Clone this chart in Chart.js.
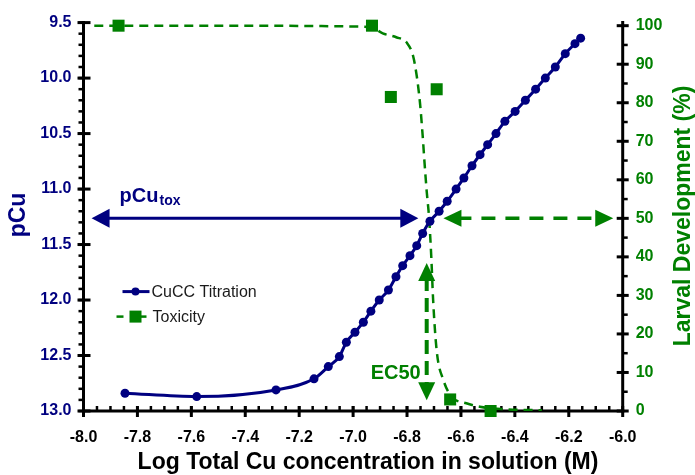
<!DOCTYPE html>
<html>
<head>
<meta charset="utf-8">
<script src="https://cdn.jsdelivr.net/npm/chart.js@4.4.1/dist/chart.umd.min.js"></script>
<style>
  html, body { margin: 0; padding: 0; background: #fff; }
</style>
</head>
<body>
<canvas id="chart" width="695" height="475"></canvas>
<script>
// CuCC titration: log total Cu (M) against free pCu
const titrationLogCu = [-7.846, -7.580, -7.286, -7.145, -7.092, -7.051, -7.025, -6.993, -6.962, -6.934,
  -6.903, -6.869, -6.841, -6.816, -6.789, -6.764, -6.742, -6.715, -6.681, -6.651,
  -6.618, -6.589, -6.559, -6.529, -6.501, -6.470, -6.437, -6.399, -6.361, -6.323,
  -6.287, -6.250, -6.213, -6.177, -6.156];
const titrationPCu = [12.84, 12.87, 12.81, 12.71, 12.60, 12.51, 12.38, 12.29, 12.20, 12.10,
  12.00, 11.91, 11.79, 11.69, 11.60, 11.51, 11.40, 11.29, 11.20, 11.11,
  11.00, 10.90, 10.79, 10.69, 10.60, 10.50, 10.39, 10.30, 10.20, 10.10,
  10.00, 9.90, 9.78, 9.69, 9.64];

// larval development bioassay (%)
const toxLogCu = [-7.87, -6.93, -6.86, -6.69, -6.64, -6.49];
const toxDevelopment = [100, 100, 81.5, 83.5, 3, 0];

// fitted dose-response curve
const fitLogCu = [-7.96, -7.40, -7.00, -6.93, -6.89, -6.84, -6.80, -6.777, -6.762, -6.752,
  -6.742, -6.736, -6.727, -6.718, -6.710, -6.703, -6.690, -6.665, -6.634, -6.580,
  -6.530, -6.450, -6.300];
const fitDevelopment = [100, 100, 99.8, 99.5, 98, 97, 95.5, 92, 86, 80,
  71.5, 65.4, 57, 50, 40, 28.6, 15.7, 8, 3.7, 2,
  1.1, 0.5, 0.2];

// tick values
const xTicks = [-8.0, -7.8, -7.6, -7.4, -7.2, -7.0, -6.8, -6.6, -6.4, -6.2, -6.0];
const pCuTicks = [9.5, 10.0, 10.5, 11.0, 11.5, 12.0, 12.5, 13.0];
const devTicks = [0, 10, 20, 30, 40, 50, 60, 70, 80, 90, 100];

// annotation arrows
const ec50LogCu = -6.727;
const ec50Span = [38.4, 2.8];          // vertical arrow, % development
const pCuToxSpan = [-7.97, -6.758];    // blue arrow along 50 %
const toxSpan = [-6.665, -6.035];      // green arrow along 50 %

const NAVY = '#000080';
const GREEN = '#008000';
const FONT = '"Liberation Sans", Arial, sans-serif';

Chart.defaults.font.family = FONT;

function line(ctx, x1, y1, x2, y2) {
  ctx.beginPath();
  ctx.moveTo(x1, y1);
  ctx.lineTo(x2, y2);
  ctx.stroke();
}

function head(ctx, tx, ty, dx, dy, len, half) {
  const px = -dy, py = dx;
  ctx.beginPath();
  ctx.moveTo(tx, ty);
  ctx.lineTo(tx - dx * len + px * half, ty - dy * len + py * half);
  ctx.lineTo(tx - dx * len - px * half, ty - dy * len - py * half);
  ctx.closePath();
  ctx.fill();
}

const decor = {
  id: 'decor',
  beforeDatasetsDraw(chart) {
    const {ctx, chartArea: a, scales} = chart;
    const x = scales.x, yL = scales.yL, yR = scales.yR;
    ctx.save();
    ctx.strokeStyle = '#000';
    ctx.lineCap = 'butt';

    // minor ticks
    ctx.lineWidth = 2.5;
    for (let v = -8; v <= -6.001; v += 0.05) line(ctx, x.getPixelForValue(v), a.bottom, x.getPixelForValue(v), a.bottom - 5);
    for (let v = 9.5; v <= 13.001; v += 0.1) line(ctx, a.left, yL.getPixelForValue(v), a.left - 5, yL.getPixelForValue(v));
    for (let v = 5; v < 100; v += 10) line(ctx, a.right, yR.getPixelForValue(v), a.right + 5, yR.getPixelForValue(v));

    // major ticks
    ctx.lineWidth = 3;
    xTicks.forEach(v => line(ctx, x.getPixelForValue(v), a.bottom - 5, x.getPixelForValue(v), a.bottom + 6));
    pCuTicks.forEach(v => line(ctx, a.left - 6, yL.getPixelForValue(v), a.left + 7, yL.getPixelForValue(v)));
    devTicks.forEach(v => line(ctx, a.right - 6, yR.getPixelForValue(v), a.right + 6, yR.getPixelForValue(v)));

    // axis lines
    ctx.lineWidth = 3;
    ctx.lineCap = 'square';
    line(ctx, a.left, a.top, a.left, a.bottom);
    line(ctx, a.right, a.top, a.right, a.bottom);
    line(ctx, a.left, a.bottom, a.right, a.bottom);
    ctx.restore();
  },
  afterDatasetsDraw(chart) {
    const {ctx, chartArea: a, scales} = chart;
    const x = scales.x, yR = scales.yR;
    const y50 = yR.getPixelForValue(50);
    ctx.save();

    // pCu_tox arrow
    const bx1 = x.getPixelForValue(pCuToxSpan[0]), bx2 = x.getPixelForValue(pCuToxSpan[1]);
    ctx.strokeStyle = NAVY; ctx.fillStyle = NAVY; ctx.lineWidth = 3;
    line(ctx, bx1 + 10, y50, bx2 - 10, y50);
    head(ctx, bx1, y50, -1, 0, 18, 9.5);
    head(ctx, bx2, y50, 1, 0, 18, 9.5);

    ctx.textBaseline = 'alphabetic';
    ctx.textAlign = 'left';
    ctx.font = 'bold 20px ' + FONT;
    const tx = bx1 + 28;
    ctx.fillText('pCu', tx, y50 - 16);
    const w = ctx.measureText('pCu').width;
    ctx.font = 'bold 14px ' + FONT;
    ctx.fillText('tox', tx + w + 1, y50 - 13);

    // toxicity arrow along 50 %
    const gx1 = x.getPixelForValue(toxSpan[0]), gx2 = x.getPixelForValue(toxSpan[1]);
    ctx.strokeStyle = GREEN; ctx.fillStyle = GREEN; ctx.lineWidth = 3.5;
    ctx.setLineDash([14, 10]);
    line(ctx, gx1 + 14, y50, gx2 - 14, y50);
    ctx.setLineDash([]);
    head(ctx, gx1, y50, -1, 0, 18, 8.5);
    head(ctx, gx2, y50, 1, 0, 18, 8.5);

    // EC50 arrow
    const ex = x.getPixelForValue(ec50LogCu);
    const ey1 = yR.getPixelForValue(ec50Span[0]), ey2 = yR.getPixelForValue(ec50Span[1]);
    ctx.lineWidth = 4;
    ctx.setLineDash([14, 7]);
    line(ctx, ex, ey1 + 14, ex, ey2 - 14);
    ctx.setLineDash([]);
    head(ctx, ex, ey1, 0, -1, 18, 8.5);
    head(ctx, ex, ey2, 0, 1, 18, 8.5);

    ctx.font = 'bold 20px ' + FONT;
    ctx.textAlign = 'right';
    ctx.fillText('EC50', ex - 6, yR.getPixelForValue(8.2));

    // legend
    const lx = a.left + 33;
    const ly1 = a.top + 269, ly2 = a.top + 294;
    ctx.strokeStyle = NAVY; ctx.fillStyle = NAVY; ctx.lineWidth = 3;
    line(ctx, lx + 6, ly1, lx + 33, ly1);
    ctx.beginPath(); ctx.arc(lx + 19, ly1, 4, 0, Math.PI * 2); ctx.fill();
    ctx.strokeStyle = GREEN; ctx.fillStyle = GREEN; ctx.lineWidth = 2.5;
    line(ctx, lx, ly2, lx + 7, ly2);
    line(ctx, lx + 24, ly2, lx + 30, ly2);
    ctx.fillRect(lx + 13, ly2 - 6, 12, 12);
    ctx.fillStyle = '#1a1a1a';
    ctx.font = '16px ' + FONT;
    ctx.textAlign = 'left';
    ctx.textBaseline = 'middle';
    ctx.fillText('CuCC Titration', lx + 35, ly1 + 1);
    ctx.fillText('Toxicity', lx + 36, ly2 + 1);

    // axis titles
    ctx.font = 'bold 23px ' + FONT;
    ctx.textAlign = 'center';
    ctx.fillStyle = '#000';
    ctx.fillText('Log Total Cu concentration in solution (M)', 368, 463);

    ctx.save();
    ctx.translate(19, 215);
    ctx.rotate(-Math.PI / 2);
    ctx.fillStyle = NAVY;
    ctx.fillText('pCu', 0, 0);
    ctx.restore();

    ctx.save();
    ctx.translate(684, 216);
    ctx.rotate(-Math.PI / 2);
    ctx.fillStyle = GREEN;
    ctx.fillText('Larval Development (%)', 0, 0);
    ctx.restore();

    ctx.restore();
  }
};

new Chart(document.getElementById('chart'), {
  type: 'line',
  data: {
    datasets: [
      {
        label: 'CuCC Titration',
        data: titrationLogCu.map((v, i) => ({x: v, y: titrationPCu[i]})),
        yAxisID: 'yL',
        borderColor: NAVY,
        backgroundColor: NAVY,
        borderWidth: 3,
        pointRadius: 4.5,
        pointBorderWidth: 0,
        cubicInterpolationMode: 'monotone',
        clip: false
      },
      {
        label: 'Toxicity fit',
        data: fitLogCu.map((v, i) => ({x: v, y: fitDevelopment[i]})),
        yAxisID: 'yR',
        borderColor: GREEN,
        borderWidth: 2.5,
        borderDash: [9, 6],
        pointRadius: 0,
        cubicInterpolationMode: 'monotone'
      },
      {
        label: 'Toxicity',
        data: toxLogCu.map((v, i) => ({x: v, y: toxDevelopment[i]})),
        yAxisID: 'yR',
        showLine: false,
        pointStyle: 'rect',
        pointRadius: 8.5,
        pointBorderWidth: 0,
        backgroundColor: GREEN,
        borderColor: GREEN,
        clip: false
      }
    ]
  },
  options: {
    responsive: false,
    animation: false,
    devicePixelRatio: 1,
    layout: { padding: { top: 19, left: 0, right: 0, bottom: 0 } },
    plugins: { legend: { display: false }, tooltip: { enabled: false } },
    scales: {
      x: {
        type: 'linear',
        min: -8, max: -6,
        grid: { display: false, drawTicks: false },
        border: { display: false },
        afterBuildTicks: s => { s.ticks = xTicks.map(v => ({value: v})); },
        afterFit: s => { s.height = 64; },
        ticks: {
          padding: 17,
          color: '#000',
          font: { size: 16, weight: 'bold' },
          callback: v => Number(v).toFixed(1)
        }
      },
      yL: {
        type: 'linear',
        position: 'left',
        min: 9.5, max: 13,
        reverse: true,
        grid: { display: false, drawTicks: false },
        border: { display: false },
        afterBuildTicks: s => { s.ticks = pCuTicks.map(v => ({value: v})); },
        afterFit: s => { s.width = 83.5; },
        ticks: {
          padding: 12,
          color: NAVY,
          font: { size: 16, weight: 'bold' },
          callback: v => Number(v).toFixed(1)
        }
      },
      yR: {
        type: 'linear',
        position: 'right',
        min: 0, max: 100.8,
        grid: { display: false, drawTicks: false },
        border: { display: false },
        afterBuildTicks: s => { s.ticks = devTicks.map(v => ({value: v})); },
        afterFit: s => { s.width = 72.3; },
        ticks: {
          padding: 13,
          color: GREEN,
          font: { size: 16, weight: 'bold' }
        }
      }
    }
  },
  plugins: [decor]
});
</script>
</body>
</html>
